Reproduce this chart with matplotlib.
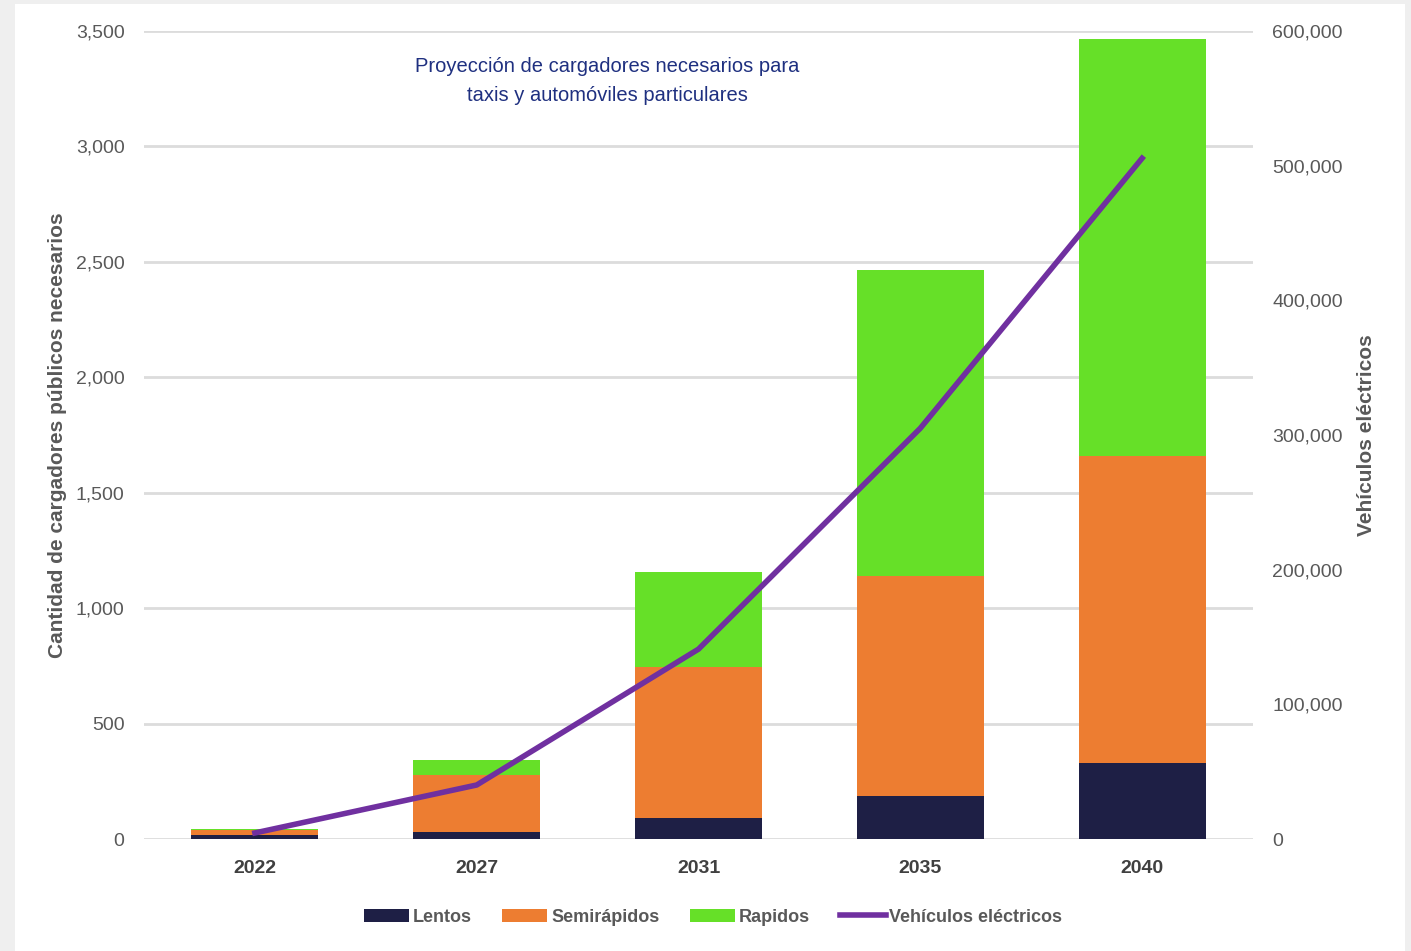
import matplotlib.pyplot as plt
from matplotlib.patches import Rectangle
from matplotlib.ticker import FuncFormatter
import numpy as np

# Datos
anios = ['2022', '2027', '2031', '2035', '2040']
lentos = [19, 31, 90, 186, 328]
semirapidos = [19, 246, 656, 953, 1332]
rapidos = [6, 65, 411, 1325, 1804]
vehiculos = [4500, 40100, 141000, 305000, 505500]

c_lentos = '#1e1f45'
c_semi = '#ed7d31'
c_rap = '#66e028'
c_veh = '#7030a0'
gris = '#595959'

plt.rcParams['font.family'] = ['Liberation Sans', 'DejaVu Sans']

fig = plt.figure(figsize=(14.11, 9.51), dpi=100)
fig.patch.set_facecolor('#efefef')
# panel blanco
fig.patches.append(Rectangle((15/1411, 0), 1390/1411, 1 - 4/951, transform=fig.transFigure,
                             facecolor='white', edgecolor='none', zorder=-10))

ax = fig.add_axes([144/1411, 1 - 839/951, (1253-144)/1411, (839-31)/951])
ax.set_facecolor('none')
x = np.arange(len(anios))
w = 0.573
b1 = np.array(lentos)
b2 = b1 + np.array(semirapidos)
ax.bar(x, lentos, w, color=c_lentos, label='Lentos', zorder=3)
ax.bar(x, semirapidos, w, bottom=b1, color=c_semi, label='Semirápidos', zorder=3)
ax.bar(x, rapidos, w, bottom=b2, color=c_rap, label='Rapidos', zorder=3)

ax.set_xlim(-0.5, 4.5)
ax.set_ylim(0, 3500)
ax.set_yticks(np.arange(0, 3501, 500))
ax.yaxis.set_major_formatter(FuncFormatter(lambda v, p: f'{int(v):,}'))
ax.grid(axis='y', color='#dcdcdc', linewidth=2, zorder=0)
ax.set_axisbelow(True)
for s in ax.spines.values():
    s.set_visible(False)
ax.tick_params(axis='y', length=0, labelsize=14, labelcolor=gris, pad=14)
ax.tick_params(axis='x', length=0, labelsize=14, labelcolor='#404040', pad=15)
ax.set_xticks(x)
ax.set_xticklabels(anios, fontweight='bold')
ax.set_ylabel('Cantidad de cargadores públicos necesarios', fontsize=15, fontweight='bold',
              color=gris, labelpad=6)

ax2 = ax.twinx()
ax2.plot(x, vehiculos, color=c_veh, linewidth=4, label='Vehículos eléctricos', zorder=4)
ax2.set_ylim(0, 600000)
ax2.set_yticks(np.arange(0, 600001, 100000))
ax2.yaxis.set_major_formatter(FuncFormatter(lambda v, p: f'{int(v):,}'))
for s in ax2.spines.values():
    s.set_visible(False)
ax2.tick_params(axis='y', length=0, labelsize=14, labelcolor=gris, pad=14)
ax2.set_ylabel('Vehículos eléctricos', fontsize=15, fontweight='bold', color=gris, labelpad=10)

ax.text(0.418, 0.968, 'Proyección de cargadores necesarios para\ntaxis y automóviles particulares',
        transform=ax.transAxes, ha='center', va='top', fontsize=14.5, color='#1f3080',
        linespacing=1.7)

h1, l1 = ax.get_legend_handles_labels()
h2, l2 = ax2.get_legend_handles_labels()
leg = fig.legend(h1 + h2, l1 + l2, loc='center', bbox_to_anchor=(713/1411, 1 - 917/951), ncol=4,
                 frameon=False, fontsize=13, handlelength=2.5, handleheight=0.7,
                 columnspacing=1.7, handletextpad=0.2)
for t in leg.get_texts():
    t.set_color(gris)
    t.set_fontweight('bold')

fig.savefig('out.png', dpi=100, facecolor=fig.get_facecolor())
